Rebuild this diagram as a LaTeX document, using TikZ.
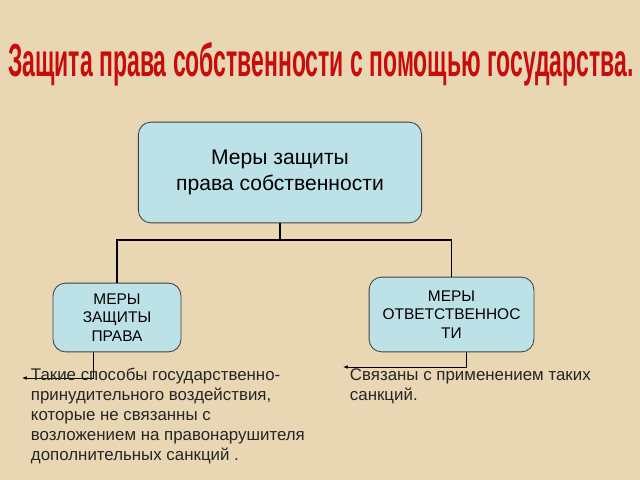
\documentclass[tikz,border=0pt]{standalone}
\usepackage{fontspec}
\setmainfont{Liberation Sans}
\usetikzlibrary{positioning, shapes}
\usetikzlibrary{arrows.meta}

\definecolor{parchment}{RGB}{233,215,180}
\definecolor{boxblue}{RGB}{188,225,230}
\definecolor{titlered}{RGB}{200,12,12}

\begin{document}
\begin{tikzpicture}[x=0.025cm,y=-0.025cm]
            \tikzset{box/.style = {draw=black!75, fill=boxblue, rounded corners=9pt, align=center, line width=0.6pt}}
            \tikzset{c/.style = {line width=0.8pt}}
            \tikzset{smalledge/.style = {-{Latex[length=1.2mm]}, line width=0.5pt}}

            \useasboundingbox (0,0) rectangle (640,480);
            \fill[parchment] (0,0) rectangle (640,480);

            \node[titlered] (title) at (321,64) {\scalebox{0.495}[1]{\fontsize{33}{36}\selectfont\bfseries Защита права собственности с помощью государства.}};

            \node[box, minimum width=7.08cm, minimum height=2.52cm, font=\fontsize{15}{19}\selectfont] (main) at (280,172.5) {Меры защиты\\права собственности};
            \node[box, minimum width=3.2cm, minimum height=1.72cm, font=\fontsize{11}{13}\selectfont] (protect) at (117,317.5) {МЕРЫ\\ЗАЩИТЫ\\ПРАВА};
            \node[box, minimum width=4.12cm, minimum height=1.87cm, font=\fontsize{11}{13}\selectfont] (liable) at (451.5,314.5) {МЕРЫ\\ОТВЕТСТВЕННОС\\ТИ};

            \coordinate (split) at (283,240);
            \draw[c] (main.south) -- (main.south |- split);
            \draw[c] (protect.north) |- (split);
            \draw[c] (liable.north) |- (split);

            % notes
            \coordinate (protectend) at (22,378);
            \coordinate (liableend) at (343,367);
            \draw[smalledge] ([xshift=-0.58cm]protect.south) |- (protectend);
            \draw[smalledge] ([xshift=0.36cm]liable.south) |- (liableend);

            \node[anchor=north west, align=left, font=\fontsize{12}{14.3}\selectfont, text=black!85] (protectnote) at (26,363) {Такие способы государственно-\\принудительного воздействия,\\которые не связанны с\\возложением на правонарушителя\\дополнительных санкций .};
            \node[anchor=north west, align=left, font=\fontsize{12}{14.3}\selectfont, text=black!85] (liablenote) at (345,364) {Связаны с применением таких\\санкций.};

        \end{tikzpicture}
\end{document}
